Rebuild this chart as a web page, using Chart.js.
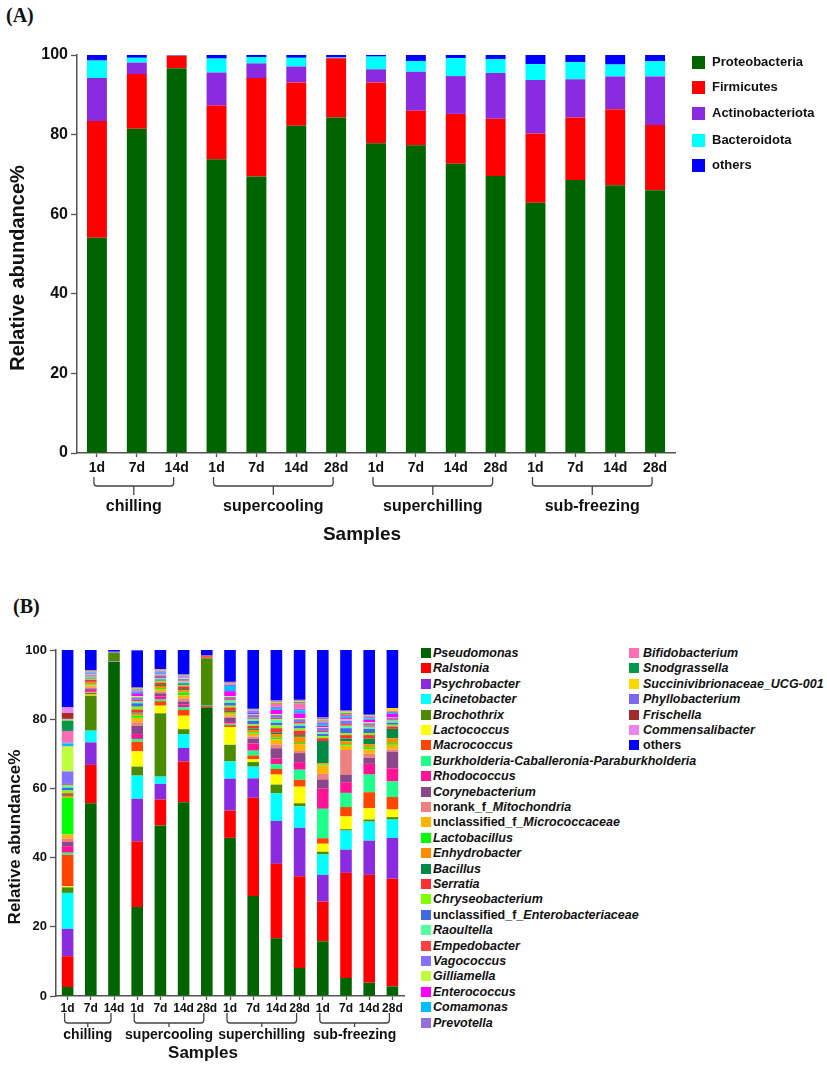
<!DOCTYPE html>
<html>
<head>
<meta charset="utf-8">
<script src="https://cdn.jsdelivr.net/npm/chart.js@4.4.0/dist/chart.umd.min.js"></script>
<style>
    body { margin: 0; background: #fff; width: 827px; height: 1077px; position: relative; overflow: hidden;
           font-family: "Liberation Sans", Arial, sans-serif; color: #111; }
    .panel-tag { position: absolute; font-family: "Liberation Serif", "Times New Roman", serif; font-weight: bold; font-size: 20px; }
    #wrapA { position: absolute; left: 0; top: 0; }
    #wrapB { position: absolute; left: 0; top: 590px; }
    .leg { position: absolute; font-weight: bold; white-space: nowrap; }
    .leg span.sw { position: absolute; left: 0; }
    #legendA .leg { font-size: 13px; }
    #legendB .leg { font-size: 12.5px; }
</style>
</head>
<body>
<div class="panel-tag" style="left:6px; top:4px;">(A)</div>
<div class="panel-tag" style="left:13px; top:595px;">(B)</div>
<div id="wrapA"><canvas id="chartA" width="700" height="560"></canvas></div>
<div id="wrapB"><canvas id="chartB" width="415" height="487"></canvas></div>
<div id="legendA"></div>
<div id="legendB"></div>
<script>
// --- SHARED AXIS DATA ---
const samples = ['1d', '7d', '14d', '1d', '7d', '14d', '28d', '1d', '7d', '14d', '28d', '1d', '7d', '14d', '28d'];
const groupNames = ['chilling', 'supercooling', 'superchilling', 'sub-freezing'];
const groupSizes = [3, 4, 4, 4];

// --- PANEL A: phylum level ---
const phylumNames = ['Proteobacteria', 'Firmicutes', 'Actinobacteriota', 'Bacteroidota', 'others'];
const phylumColors = ['#006400', '#ff0000', '#8a2be2', '#00ffff', '#0000ff'];
const proteobacteria = [54.1, 81.5, 96.7, 73.8, 69.5, 82.2, 84.3, 77.8, 77.3, 72.7, 69.6, 62.9, 68.6, 67.3, 66.0];
const firmicutes = [29.3, 13.7, 3.1, 13.5, 24.7, 10.9, 14.9, 15.3, 8.7, 12.5, 14.4, 17.4, 15.7, 19.1, 16.4];
const actinobacteriota = [10.8, 2.9, 0.05, 8.3, 3.7, 4.0, 0.1, 3.3, 9.8, 9.5, 11.5, 13.4, 9.6, 8.2, 12.2];
const bacteroidota = [4.4, 1.2, 0.05, 3.5, 1.6, 2.2, 0.1, 3.2, 2.7, 4.5, 3.5, 4.0, 4.3, 3.0, 3.8];
const phylumOthers = [1.4, 0.7, 0.1, 0.9, 0.5, 0.7, 0.6, 0.4, 1.5, 0.8, 1.0, 2.3, 1.8, 2.4, 1.6];
const phylumSeries = [proteobacteria, firmicutes, actinobacteriota, bacteroidota, phylumOthers];

// --- PANEL B: genus level ---
const genusNames = ['Pseudomonas', 'Ralstonia', 'Psychrobacter', 'Acinetobacter', 'Brochothrix', 'Lactococcus',
    'Macrococcus', 'Burkholderia-Caballeronia-Paraburkholderia', 'Rhodococcus', 'Corynebacterium',
    'norank_f_Mitochondria', 'unclassified_f_Micrococcaceae', 'Lactobacillus', 'Enhydrobacter', 'Bacillus',
    'Serratia', 'Chryseobacterium', 'unclassified_f_Enterobacteriaceae', 'Raoultella', 'Empedobacter',
    'Vagococcus', 'Gilliamella', 'Enterococcus', 'Comamonas', 'Prevotella', 'Bifidobacterium', 'Snodgrassella',
    'Succinivibrionaceae_UCG-001', 'Phyllobacterium', 'Frischella', 'Commensalibacter', 'others'];
const genusColors = ['#006400', '#ff0000', '#8a2be2', '#00ffff', '#4b8b00', '#ffff00',
    '#ff4500', '#1eff8c', '#ff1493', '#8b4789',
    '#f08080', '#ffb400', '#00ff00', '#ff8c00', '#008b45',
    '#ff3030', '#7fff00', '#4169e1', '#54ff9f', '#ff4040',
    '#8470ff', '#c0ff3e', '#ff00ff', '#00bfff', '#9370db', '#ff6eb4', '#00994c',
    '#ffd700', '#7b68ee', '#a52a2a', '#ee82ee', '#0000ff'];
const pseudomonas = [2.6, 55.7, 96.5, 25.7, 49.3, 56.0, 83.4, 45.7, 28.9, 16.7, 8.1, 15.8, 5.2, 3.8, 2.8];
const ralstonia = [8.9, 11.1, 0.1, 19.0, 7.5, 11.8, 0.3, 7.9, 28.4, 21.5, 26.5, 11.5, 30.4, 31.2, 31.1];
const psychrobacter = [7.9, 6.5, 0.1, 12.3, 4.5, 3.9, 0.1, 9.2, 5.6, 12.4, 14.0, 7.7, 6.7, 9.9, 11.8];
const acinetobacter = [10.4, 3.4, 0.1, 6.7, 2.1, 4.0, 0.1, 5.0, 3.4, 8.0, 6.2, 5.9, 5.5, 5.5, 5.3];
const brochothrix = [1.6, 10.1, 2.4, 2.6, 18.3, 1.4, 13.7, 4.8, 1.3, 2.5, 0.9, 0.8, 0.4, 0.6, 0.7];
const lactococcus = [0.3, 0.3, 0, 4.4, 2.2, 3.9, 0, 5.1, 0.9, 2.9, 4.8, 2.3, 3.7, 3.3, 2.2];
const macrococcus = [9.1, 0.5, 0, 2.8, 1.3, 1.7, 0.2, 0.6, 1.0, 1.6, 2.0, 1.6, 2.7, 4.6, 3.6];
const burkholderia = [0.6, 0.3, 0, 0.8, 0.5, 0.8, 0, 0.4, 1.4, 1.4, 2.9, 8.5, 4.1, 5.1, 4.5];
const rhodococcus = [1.9, 0.6, 0, 1.4, 0.9, 0.8, 0, 0.5, 2.1, 1.6, 2.2, 5.8, 3.1, 3.1, 3.8];
const corynebacterium = [1.2, 0.4, 0, 2.4, 0.9, 0.8, 0, 1.2, 1.4, 3.0, 2.6, 2.7, 2.2, 1.7, 4.8];
const mitochondria = [1.0, 0.3, 0, 1.0, 0.4, 0.9, 0, 0.4, 0.6, 1.1, 0.6, 1.6, 7.1, 1.2, 0.6];
const micrococcaceae = [1.2, 0.6, 0, 1.3, 0.8, 0.9, 0, 0.6, 0.8, 1.5, 2.0, 2.4, 1.3, 1.3, 1.4];
const lactobacillus = [10.6, 0.2, 0, 0.6, 0.3, 0.8, 0, 0.3, 0.4, 0.5, 0.3, 0.3, 0.4, 0.6, 0.5];
const enhydrobacter = [0.5, 0.6, 0, 0.6, 0.6, 0.7, 0, 0.4, 0.7, 1.0, 1.8, 0.4, 0.8, 0.9, 1.4];
const bacillus = [0.2, 0.2, 0, 0.3, 0.3, 0.3, 0, 0.3, 0.4, 0.4, 0.5, 6.4, 0.8, 1.6, 2.7];
const serratia = [0.6, 0.6, 0, 0.9, 0.7, 0.8, 0.4, 1.0, 0.8, 1.3, 1.3, 0.8, 1.0, 1.0, 0.7];
const chryseobacterium = [0.8, 0.3, 0, 0.8, 0.5, 0.4, 0, 0.5, 0.4, 0.8, 0.6, 0.6, 0.5, 0.6, 0.5];
const enterobacteriaceae = [0.8, 0.3, 0, 1.0, 0.4, 0.5, 0, 0.8, 1.0, 0.8, 0.8, 0.6, 1.5, 1.2, 0.6];
const raoultella = [0.8, 0.3, 0, 0.5, 0.3, 0.5, 0, 0.7, 0.6, 1.0, 0.6, 0.5, 0.7, 0.6, 0.6];
const empedobacter = [0.3, 0.3, 0, 0.5, 0.4, 0.3, 0.2, 0.4, 0.4, 0.4, 0.5, 0.4, 0.5, 0.4, 0.4];
const vagococcus = [3.6, 0.2, 0.2, 0.7, 0.5, 0.4, 0, 0.6, 0.8, 0.8, 0.8, 0.9, 1.0, 0.6, 0.5];
const gilliamella = [7.2, 0.1, 0, 0.4, 0.2, 0.2, 0, 0.3, 0.2, 0.3, 0.3, 0.2, 0.3, 0.3, 0.1];
const enterococcus = [0.1, 0.1, 0, 0.8, 0.3, 0.2, 0, 1.4, 0.3, 1.2, 1.4, 0.4, 0.4, 0.7, 0.9];
const comamonas = [0.8, 0.3, 0, 0.5, 0.4, 0.1, 0, 1.5, 0.3, 0.5, 0.9, 0.5, 0.4, 0.4, 0.3];
const prevotella = [0.2, 0.2, 0.1, 0.3, 0.2, 0.2, 0, 0.4, 0.4, 0.4, 0.4, 0.5, 0.5, 0.4, 0.3];
const bifidobacterium = [3.4, 0.2, 0, 0.3, 0.2, 0.2, 0, 0.3, 0.2, 0.9, 1.6, 0.3, 0.3, 0.3, 0.3];
const snodgrassella = [3.0, 0.1, 0, 0.2, 0.1, 0.1, 0, 0.1, 0.1, 0.2, 0.3, 0.2, 0.2, 0.1, 0];
const succinivibrionaceae = [0.3, 0.1, 0, 0.2, 0.2, 0.1, 0, 0.1, 0.1, 0.3, 0.3, 0.3, 0.5, 0.2, 0.8];
const phyllobacterium = [0.2, 0.1, 0, 0.1, 0.1, 0.1, 0, 0.2, 0.1, 0.2, 0.2, 0.4, 0.3, 0.1, 0];
const frischella = [1.7, 0.1, 0, 0.1, 0.1, 0, 0, 0.1, 0, 0.1, 0.1, 0.1, 0, 0, 0];
const commensalibacter = [1.6, 0.1, 0, 0, 0, 0.1, 0, 0, 0, 0.1, 0.1, 0.1, 0, 0, 0];
const genusOthers = [16.6, 5.8, 0.5, 10.7, 5.5, 7.1, 1.6, 9.2, 17.0, 14.6, 14.4, 19.6, 17.5, 18.7, 16.8];
const genusSeries = [pseudomonas, ralstonia, psychrobacter, acinetobacter, brochothrix, lactococcus,
    macrococcus, burkholderia, rhodococcus, corynebacterium, mitochondria, micrococcaceae, lactobacillus,
    enhydrobacter, bacillus, serratia, chryseobacterium, enterobacteriaceae, raoultella, empedobacter,
    vagococcus, gilliamella, enterococcus, comamonas, prevotella, bifidobacterium, snodgrassella,
    succinivibrionaceae, phyllobacterium, frischella, commensalibacter, genusOthers];

const FONT = '"Liberation Sans", Arial, sans-serif';

// Brackets under the day ticks, group names and axis titles
const groupBrackets = {
    id: 'groupBrackets',
    afterDraw(chart, args, o) {
        const xs = chart.scales.x;
        const area = chart.chartArea;
        const ctx = chart.ctx;
        const base = area.bottom;
        ctx.save();
        ctx.strokeStyle = '#444';
        ctx.lineWidth = 1.3;
        ctx.fillStyle = '#111';
        ctx.textAlign = 'center';
        ctx.textBaseline = 'middle';
        ctx.font = `bold ${o.groupFont}px ${FONT}`;
        let start = 0;
        groupSizes.forEach((n, g) => {
            const x1 = xs.getPixelForValue(start) - 3;
            const x2 = xs.getPixelForValue(start + n - 1) - 3;
            const yTop = base + o.top, yLine = base + o.line;
            const r = 3;
            const xm = (x1 + x2) / 2;
            ctx.beginPath();
            ctx.moveTo(x1, yTop);
            ctx.lineTo(x1, yLine - r);
            ctx.quadraticCurveTo(x1, yLine, x1 + r, yLine);
            ctx.lineTo(x2 - r, yLine);
            ctx.quadraticCurveTo(x2, yLine, x2, yLine - r);
            ctx.lineTo(x2, yTop);
            ctx.moveTo(xm, yLine);
            ctx.lineTo(xm, base + o.tick);
            ctx.stroke();
            ctx.fillText(groupNames[g], xm, base + o.label);
            start += n;
        });
        ctx.font = `bold ${o.titleFont}px ${FONT}`;
        ctx.fillText('Samples', (area.left + area.right) / 2 + o.titleDx, base + o.title);
        ctx.font = `bold ${o.yTitleFont}px ${FONT}`;
        ctx.translate(o.yTitleX, (area.top + area.bottom) / 2 + o.yTitleDy);
        ctx.rotate(-Math.PI / 2);
        ctx.fillText('Relative abundance%', 0, 0);
        ctx.restore();
    }
};

const makeOptions = (cfg) => ({
    responsive: false,
    animation: false,
    layout: { padding: cfg.padding },
    plugins: {
        legend: { display: false },
        tooltip: { enabled: false },
        groupBrackets: cfg.brackets
    },
    scales: {
        x: {
            stacked: true,
            afterFit: (s) => { s.height = cfg.xHeight; },
            grid: { offset: false, drawOnChartArea: false, tickLength: 4, color: '#555', tickWidth: 1.3 },
            border: { color: '#555', width: 1.5 },
            ticks: { color: '#111', padding: cfg.xTickPad, maxRotation: 0, autoSkip: false, font: { family: FONT, weight: 'bold', size: cfg.xTickFont } }
        },
        y: {
            stacked: true,
            min: 0,
            max: 100,
            afterFit: (s) => { s.width = cfg.yWidth; },
            grid: { drawOnChartArea: false, tickLength: 6, color: '#555', tickWidth: 1.3 },
            border: { color: '#555', width: 1.5 },
            ticks: { stepSize: 20, color: '#111', padding: 3, font: { family: FONT, weight: 'bold', size: cfg.yTickFont } }
        }
    }
});

const makeDatasets = (names, colors, series) => names.map((name, i) => ({
    label: name,
    data: series[i],
    backgroundColor: colors[i],
    borderWidth: 0,
    categoryPercentage: 1,
    barPercentage: 0.5
}));

new Chart(document.getElementById('chartA'), {
    type: 'bar',
    data: { labels: samples, datasets: makeDatasets(phylumNames, phylumColors, phylumSeries) },
    options: makeOptions({
        padding: { top: 55, right: 25, left: 0, bottom: 0 },
        xHeight: 107, yWidth: 77, xTickFont: 14, yTickFont: 16, xTickPad: 3,
        brackets: { top: 24, line: 33, tick: 42, label: 54, groupFont: 16, title: 82, titleFont: 19, titleDx: -14,
                    yTitleX: 18, yTitleDy: 14, yTitleFont: 20 }
    }),
    plugins: [groupBrackets]
});

new Chart(document.getElementById('chartB'), {
    type: 'bar',
    data: { labels: samples, datasets: makeDatasets(genusNames, genusColors, genusSeries) },
    options: makeOptions({
        padding: { top: 60, right: 11, left: 0, bottom: 0 },
        xHeight: 81, yWidth: 56, xTickFont: 12, yTickFont: 13, xTickPad: 1,
        brackets: { top: 17, line: 27, tick: 31, label: 39, groupFont: 14, title: 57, titleFont: 17, titleDx: -27,
                    yTitleX: 15, yTitleDy: 14, yTitleFont: 17 }
    }),
    plugins: [groupBrackets]
});

// --- HTML LEGENDS ---
const legendLabelHtml = (name) => {
    if (name === 'others') return name;
    const m = name.match(/^(norank_f_|unclassified_f_)(.*)$/);
    if (m) return `${m[1]}<i>${m[2]}</i>`;
    return `<i>${name}</i>`;
};

const addLegendItem = (box, html, color, x, y, sw, textDx) => {
    const el = document.createElement('div');
    el.className = 'leg';
    el.style.left = x + 'px';
    el.style.top = y + 'px';
    el.style.lineHeight = '0px';
    el.innerHTML = `<span class="sw" style="top:${-sw / 2}px;width:${sw}px;height:${sw}px;background:${color}"></span>` +
        `<span style="position:absolute;left:${textDx}px;top:0;">${html}</span>`;
    box.appendChild(el);
};

const legendA = document.getElementById('legendA');
phylumNames.forEach((name, i) => {
    addLegendItem(legendA, name, phylumColors[i], 692, [62, 87, 113, 140, 165][i], 13, 20);
});

const legendB = document.getElementById('legendB');
genusNames.forEach((name, i) => {
    const col = i < 25 ? 0 : 1;
    const row = col === 0 ? i : i - 25;
    addLegendItem(legendB, legendLabelHtml(name), genusColors[i], col === 0 ? 421 : 629, 653 + row * 15.4, 10, col === 0 ? 12 : 14);
});
</script>
</body>
</html>
